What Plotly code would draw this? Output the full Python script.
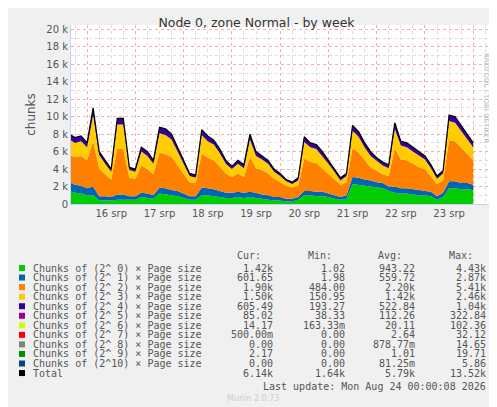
import pandas as pd
import plotly.graph_objects as go

# 3-hourly samples (thousands of chunks), from 15 Aug 15:00
times = pd.date_range("2026-08-15 15:00", periods=68, freq="3h")
total = [8.0, 7.6, 7.8, 7.0, 11.0, 6.0, 5.0, 4.0, 9.8, 9.8, 4.2, 4.0, 6.5, 6.0, 5.0, 8.8, 8.6,
         8.0, 6.5, 5.0, 3.5, 3.3, 8.5, 7.8, 7.3, 6.3, 5.0, 4.3, 5.0, 4.5, 8.0, 6.0, 5.5, 5.0,
         4.0, 3.5, 2.8, 2.5, 3.0, 7.7, 7.0, 6.8, 6.0, 5.0, 4.0, 3.0, 3.5, 9.0, 8.3, 7.0, 6.0,
         5.3, 4.8, 4.5, 9.3, 7.2, 7.0, 6.5, 6.0, 5.5, 4.5, 3.2, 3.8, 10.2, 10.0, 9.0, 8.0, 7.0]
order0 = [1.5, 1.3, 1.2, 1.0, 1.0, 0.4, 0.4, 0.4, 0.5, 0.5, 0.5, 0.5, 0.8, 0.7, 0.6, 1.2, 1.1,
          1.0, 0.9, 0.7, 0.5, 0.5, 1.0, 1.0, 0.9, 0.8, 0.7, 0.7, 0.8, 0.7, 0.8, 0.7, 0.6, 0.5,
          0.4, 0.4, 0.3, 0.3, 0.5, 1.0, 1.0, 0.9, 0.9, 0.8, 0.6, 0.5, 0.6, 2.3, 2.2, 2.1, 2.0,
          1.9, 1.8, 1.5, 1.3, 1.2, 1.2, 1.1, 1.0, 1.0, 0.9, 0.5, 0.8, 1.8, 1.8, 1.7, 1.7, 1.6]
order1 = [1.0, 0.9, 0.9, 0.8, 1.0, 0.5, 0.5, 0.4, 0.6, 0.6, 0.4, 0.4, 0.5, 0.5, 0.4, 0.7, 0.7,
          0.6, 0.6, 0.5, 0.4, 0.4, 0.9, 0.8, 0.8, 0.7, 0.6, 0.6, 0.6, 0.6, 0.6, 0.6, 0.5, 0.5,
          0.4, 0.4, 0.3, 0.3, 0.3, 0.5, 0.5, 0.5, 0.5, 0.4, 0.4, 0.3, 0.4, 0.8, 0.8, 0.7, 0.7,
          0.6, 0.6, 0.5, 0.7, 0.6, 0.6, 0.6, 0.6, 0.5, 0.5, 0.4, 0.5, 0.8, 0.8, 0.7, 0.7, 0.6]
order3 = [1.8, 1.6, 1.7, 1.5, 3.0, 1.5, 1.2, 0.9, 2.8, 2.8, 0.9, 0.8, 1.6, 1.5, 1.2, 2.2, 2.2,
          2.0, 1.6, 1.1, 0.7, 0.6, 2.1, 1.9, 1.8, 1.5, 1.1, 0.9, 1.1, 1.0, 2.0, 1.4, 1.2, 1.1,
          0.8, 0.7, 0.5, 0.4, 0.6, 1.9, 1.7, 1.6, 1.4, 1.1, 0.8, 0.5, 0.7, 2.0, 1.8, 1.5, 1.3,
          1.1, 1.0, 0.9, 2.2, 1.6, 1.5, 1.4, 1.3, 1.1, 0.9, 0.6, 0.8, 2.2, 2.1, 1.9, 1.7, 1.5]
order4 = [0.6, 0.6, 0.6, 0.5, 0.8, 0.4, 0.4, 0.3, 0.7, 0.7, 0.3, 0.3, 0.5, 0.5, 0.4, 0.7, 0.7,
          0.6, 0.5, 0.4, 0.3, 0.3, 0.6, 0.6, 0.5, 0.5, 0.4, 0.3, 0.4, 0.4, 0.6, 0.5, 0.4, 0.4,
          0.3, 0.3, 0.2, 0.2, 0.3, 0.6, 0.5, 0.5, 0.5, 0.4, 0.3, 0.3, 0.3, 0.6, 0.6, 0.5, 0.5,
          0.4, 0.4, 0.4, 0.7, 0.5, 0.5, 0.5, 0.5, 0.4, 0.4, 0.3, 0.3, 0.7, 0.7, 0.6, 0.6, 0.5]
# order 2 is whatever is left of the total
order2 = [t - a - b - c - d for t, a, b, c, d in zip(total, order0, order1, order3, order4)]

names = ["Chunks of (2^ 0) × Page size", "Chunks of (2^ 1) × Page size",
         "Chunks of (2^ 2) × Page size", "Chunks of (2^ 3) × Page size",
         "Chunks of (2^ 4) × Page size", "Chunks of (2^ 5) × Page size",
         "Chunks of (2^ 6) × Page size", "Chunks of (2^ 7) × Page size",
         "Chunks of (2^ 8) × Page size", "Chunks of (2^ 9) × Page size",
         "Chunks of (2^10) × Page size", "Total"]
colors = ["#00cc00", "#0066b3", "#ff8000", "#ffcc00", "#330099", "#990099",
          "#ccff00", "#ff0000", "#808080", "#008f00", "#00487d", "#000000"]
cur = ["1.42k", "601.65", "1.90k", "1.50k", "605.49", "85.02", "14.17", "500.00m", "0.00", "2.17", "0.00", "6.14k"]
mins = ["1.02", "1.98", "484.00", "150.95", "193.27", "38.33", "163.33m", "0.00", "0.00", "0.00", "0.00", "1.64k"]
avgs = ["943.22", "559.72", "2.20k", "1.42k", "522.84", "112.26", "20.11", "2.64", "878.77m", "1.01", "81.25m", "5.79k"]
maxs = ["4.43k", "2.87k", "5.41k", "2.46k", "1.04k", "322.84", "102.36", "32.12", "14.65", "19.71", "5.86", "13.52k"]

fig = go.Figure()
for series, col in zip([order0, order1, order2, order3, order4], colors[:5]):
    fig.add_trace(go.Scatter(x=times, y=series, stackgroup="s", mode="lines",
                             line=dict(width=0), fillcolor=col, hoverinfo="skip"))
fig.add_trace(go.Scatter(x=times, y=total, mode="lines", line=dict(color="black", width=1.2)))

# pixel helpers for the legend table (page renders ~7px lower, ~3px right)
W, H = 497, 407
L, R, T, B = 63, 10, 17, 211
DX, DY = 3, 7
pw, ph = W - L - R, H - T - B
px = lambda x: (x - DX - L) / pw
py = lambda y: (H - B - (y - DY)) / ph
mono = dict(family="DejaVu Sans Mono", size=10, color="#555555")

def txt(x, y, s, anchor="left", font=mono):
    fig.add_annotation(x=px(x), y=py(y), xref="paper", yref="paper", text=s, showarrow=False,
                       xanchor=anchor, yanchor="middle", font=font)

for hdr, xr in zip(["Cur:", "Min:", "Avg:", "Max:"], [258, 329, 399, 470]):
    txt(xr, 255, hdr, "right")
for i in range(12):
    y = 267 + i * 9.55
    fig.add_shape(type="rect", xref="paper", yref="paper", x0=px(14), x1=px(20), y0=py(y - 3),
                  y1=py(y + 3), fillcolor=colors[i], line_width=0)
    txt(26, y, names[i])
    for col, xr in zip([cur, mins, avgs, maxs], [270, 342, 412, 483]):
        txt(xr, y, col[i], "right")
txt(483, 385, "Last update: Mon Aug 24 00:00:08 2026", "right")
txt(248, 397, "Munin 2.0.73", "center", dict(family="DejaVu Sans", size=8, color="#cccccc"))
fig.add_annotation(x=px(487), y=py(50), xref="paper", yref="paper", text="RRDTOOL / TOBI OETIKER",
                   textangle=90, showarrow=False, font=dict(family="DejaVu Sans", size=7, color="#bbbbbb"))

grid_red = dict(showgrid=True, gridcolor="#f0b0b0", griddash="dot", gridwidth=1)
fig.update_layout(
    width=W, height=H, margin=dict(l=L, r=R, t=T, b=B),
    paper_bgcolor="#f0f0f0", plot_bgcolor="white", showlegend=False,
    title=dict(text="Node 0, zone Normal - by week", x=0.5, y=0.975, xanchor="center",
               font=dict(family="DejaVu Sans", size=12.5, color="#333333")),
    font=dict(family="DejaVu Sans", size=10, color="#555555"),
    xaxis=dict(range=["2026-08-15 16:00", "2026-08-24 10:50"], tickformat="%d srp",
               dtick=86400000, tick0="2026-08-16", ticklabelmode="period", ticks="",
               showline=True, linecolor="#ccccff", zeroline=False,
               minor=dict(dtick=21600000, showgrid=True, gridcolor="#dddddd", griddash="dot"),
               **grid_red),
    yaxis=dict(range=[0, 20.5], tickvals=list(range(0, 21, 2)),
               ticktext=["0"] + [f"{v} k" for v in range(2, 21, 2)], ticks="",
               showline=True, linecolor="#ccccff", zeroline=False,
               title=dict(text="chunks", standoff=8),
               minor=dict(dtick=1, showgrid=True, gridcolor="#dddddd", griddash="dot"),
               **grid_red),
)

fig.write_html("out.html")
